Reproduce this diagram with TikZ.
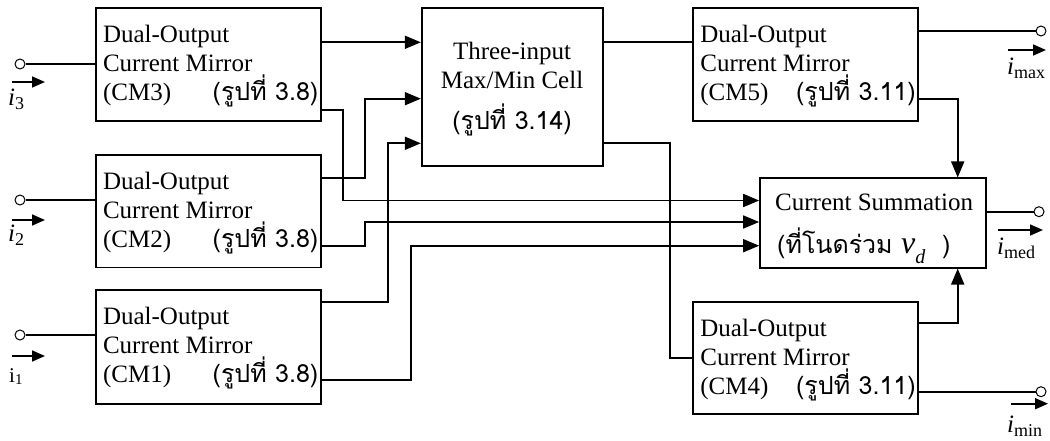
\documentclass[tikz,border=0pt]{standalone}
\usepackage{fontspec}
\setmainfont{Liberation Serif}
\newfontfamily\thaifont[Script=Thai]{Loma}
\usetikzlibrary{arrows.meta}

\newcommand\lowidx[1]{\raisebox{-4pt}{\fontsize{18}{18}\selectfont #1}}

\tikzset{
  blk/.style={draw, line width=1.7pt, minimum width=225pt, minimum height=112.5pt, inner sep=0pt},
  term/.style={circle, draw, fill=white, line width=1pt, minimum size=10pt, inner sep=0pt},
  wire/.style={line width=1.7pt},
  feed/.style={wire, -{Triangle[length=16pt,width=13pt]}},
  flow/.style={line width=1.7pt, -{Triangle[length=13pt,width=11pt]}},
  txt/.style={inner sep=0pt, font=\fontsize{25}{29}\selectfont},
  thtxt/.style={inner sep=0pt, font=\fontsize{25}{29}\thaifont}
}

\begin{document}
\begin{tikzpicture}[x=1pt,y=-1pt]
  \useasboundingbox (0,0) rectangle (1050,441);
  % blocks
  \node[blk] (cm3) at (208.2,64.5) {};
  \node[blk] (cm2) at (208.2,211.3) {};
  \node[blk, minimum height=114pt] (cm1) at (208.2,347) {};
  \node[blk, minimum width=181pt, minimum height=157.4pt] (mm) at (512.2,87) {};
  \node[blk] (cm5) at (805.5,64.5) {};
  \node[blk, minimum width=226pt, minimum height=89.4pt] (sum) at (873,223) {};
  \node[blk] (cm4) at (805.5,358) {};
  % block texts (base = last line)
  \foreach \b/\n/\r in {cm3/3/3.8, cm2/2/3.8, cm1/1/3.8, cm5/5/3.11, cm4/4/3.11} {
    \node[txt, align=left, anchor=base west] (\b-txt) at ([shift={(8,93.5)}]\b.north west)
      {Dual-Output\\Current Mirror\\(CM\n)};
    \node[thtxt, anchor=base east] (\b-ref) at ([shift={(-3,93.5)}]\b.north east) {(รูปที่ \r)};
  }
  \node[txt, align=center, anchor=base] (mm-txt) at (512,88.3) {Three-input\\Max/Min Cell};
  \node[thtxt, anchor=base] (mm-ref) at (512,130) {(รูปที่ 3.14)};
  \node[txt, anchor=base west] (sum-txt) at (775,210) {Current Summation};
  \node[thtxt, anchor=base west] (sum-ref) at (777,253)
    {(ที่โนดร่วม\ {\fontsize{32}{32}\rmfamily\itshape v}\raisebox{-10pt}{\fontsize{20}{20}\rmfamily\itshape d}\ \ )};
  % terminals
  \node[term] (t3) at (20,64) {};
  \node[term] (t2) at (20,200) {};
  \node[term] (t1) at (20,335) {};
  \node[term] (tmax) at (1041,31) {};
  \node[term] (tmed) at (1039,211.7) {};
  \node[term] (tmin) at (1041,391.7) {};
  % inputs
  \draw[wire] (t3.east) -- (t3 -| cm3.west);
  \draw[wire] (t2.east) -- (t2 -| cm2.west);
  \draw[wire] (t1.east) -- (t1 -| cm1.west);
  \draw[flow] ([shift={(-8,18)}]t3.center) -- ++(33,0);
  \draw[flow] ([shift={(-8,20)}]t2.center) -- ++(33,0);
  \draw[flow] ([shift={(-8,21)}]t1.center) -- ++(33,0);
  \node[txt, anchor=base west] (i3) at (8,106) {\itshape i\lowidx{\upshape 3}};
  \node[txt, anchor=base west] (i2) at (8,241) {\itshape i\lowidx{\upshape 2}};
  \node[txt, anchor=base west] (i1) at (9,382) {\fontsize{21}{21}\selectfont i\raisebox{-2pt}{\fontsize{15}{15}\selectfont 1}};
  % mirrors to max/min cell
  \draw[feed] (cm3.east |- 0,42.3) -- (mm.west |- 0,42.3);
  \draw[feed] (cm2.east |- 0,177.7) -| (365,98.7) -- (mm.west |- 0,98.7);
  \draw[feed] (cm1.east |- 0,301.7) -| (388.3,143.3) -- (mm.west |- 0,143.3);
  % mirrors to summation
  \draw[feed] (cm3.east |- 0,110) -| (342.7,200.5) -- (sum.west |- 0,200.5);
  \draw[feed] (cm2.east |- 0,245.7) -| (365,222) -- (sum.west |- 0,222);
  \draw[feed] (cm1.east |- 0,380) -| (410.7,245.7) -- (sum.west |- 0,245.7);
  % max/min cell to output mirrors
  \draw[wire] (mm.east |- 0,42.3) -- (cm5.west |- 0,42.3);
  \draw[wire] (mm.east |- 0,143.3) -| (670,358) -- (cm4.west);
  % outputs
  \draw[wire] (cm5.east |- tmax) -- (tmax.west);
  \draw[feed] (cm5.east |- 0,99) -| (957.7,0 |- sum.north);
  \draw[feed] (cm4.east |- 0,323.3) -| (957.7,0 |- sum.south);
  \draw[wire] (sum.east |- tmed) -- (tmed.west);
  \draw[wire] (cm4.east |- tmin) -- (tmin.west);
  \draw[flow] ([shift={(-33,19)}]tmax.center) -- ++(38,0);
  \draw[flow] ([shift={(-41,18.3)}]tmed.center) -- ++(45,0);
  \draw[flow] ([shift={(-30,12)}]tmin.center) -- ++(37,0);
  \node[txt, anchor=base west] (imax) at (1007,75) {\itshape i\lowidx{\upshape max}};
  \node[txt, anchor=base west] (imed) at (997,254) {\itshape i\lowidx{\upshape med}};
  \node[txt, anchor=base west] (imin) at (1007,432) {\itshape i\lowidx{\upshape min}};
\end{tikzpicture}
\end{document}
